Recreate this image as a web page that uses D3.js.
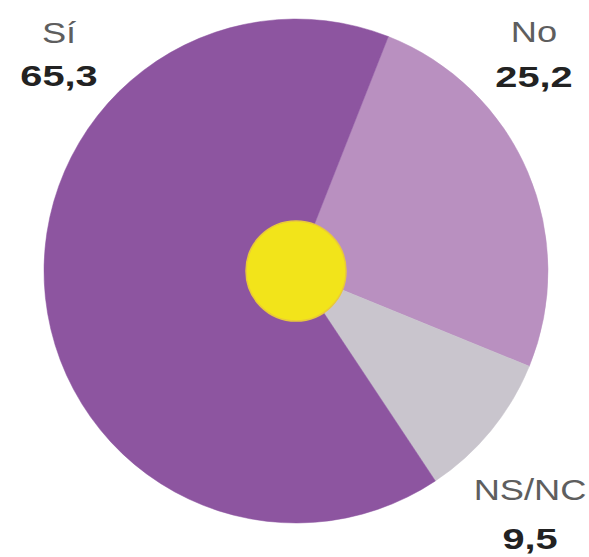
<!DOCTYPE html>
<html>
<head>
<meta charset="utf-8">
<script src="https://cdn.jsdelivr.net/npm/d3@7"></script>
<style>
  body { margin: 0; background: #fff; }
  .lbl { font-family: "Liberation Sans", Arial, sans-serif; fill: #5e5e5e; font-size: 29px; }
  .val { font-family: "Liberation Sans", Arial, sans-serif; font-weight: bold; fill: #222; font-size: 29px; }
</style>
</head>
<body>
<div id="chart"></div>
<script>
// datos de la tarta (orden horario desde la linea superior)
var categorias = ["No", "NS/NC", "Sí"];
var valores = [25.2, 9.5, 65.3];
var etiquetasValor = ["25,2", "9,5", "65,3"];
var colores = ["#b990c0", "#c9c5cd", "#8d55a0"];

var width = 589, height = 557;
var cx = 296, cy = 271, radio = 252;
var inicio = 21.5 * Math.PI / 180;

var svg = d3.select("#chart").append("svg")
    .attr("width", width)
    .attr("height", height);

var pie = d3.pie()
    .sort(null)
    .value(function(d){ return d; })
    .startAngle(inicio)
    .endAngle(inicio + 2 * Math.PI);

var arc = d3.arc().innerRadius(0).outerRadius(radio);

var g = svg.append("g").attr("transform", "translate(" + cx + "," + cy + ")");

g.selectAll("path")
    .data(pie(valores))
    .enter().append("path")
    .attr("d", arc)
    .attr("fill", function(d, i){ return colores[i]; })
    .attr("stroke", function(d, i){ return colores[i]; })
    .attr("stroke-width", 0.5);

// circulo amarillo central
g.append("circle")
    .attr("r", 50)
    .attr("fill", "#f2e41a")
    .attr("stroke", "#e9c93a")
    .attr("stroke-width", 1.5);

// etiquetas: posiciones fuera de la tarta (texto algo ensanchado como en el original)
var posEtiquetas = [
    {x: 534, y1: 42, y2: 87},
    {x: 530, y1: 500, y2: 549},
    {x: 59, y1: 43, y2: 86}
];

var etq = svg.selectAll(".etq")
    .data(categorias)
    .enter().append("g").attr("class", "etq");

etq.append("text")
    .attr("class", "lbl")
    .attr("text-anchor", "middle")
    .attr("transform", function(d, i){
        return "translate(" + posEtiquetas[i].x + "," + posEtiquetas[i].y1 + ") scale(1.25,1)";
    })
    .text(function(d){ return d; });

etq.append("text")
    .attr("class", "val")
    .attr("text-anchor", "middle")
    .attr("transform", function(d, i){
        return "translate(" + posEtiquetas[i].x + "," + posEtiquetas[i].y2 + ") scale(1.37,1)";
    })
    .text(function(d, i){ return etiquetasValor[i]; });
</script>
</body>
</html>
